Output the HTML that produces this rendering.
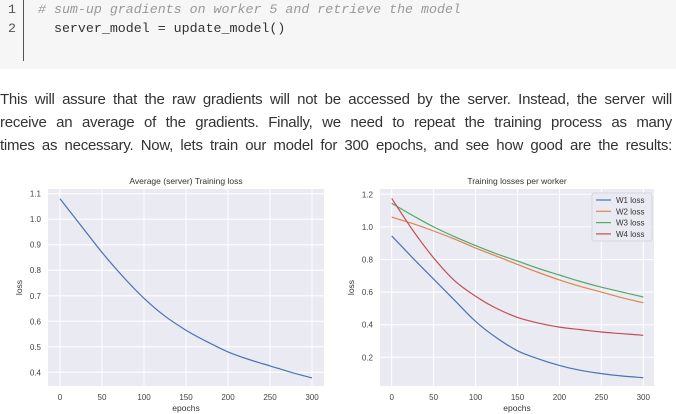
<!DOCTYPE html>
<html><head><meta charset="utf-8"><style>
body{margin:0;width:676px;height:414px;background:#fff;overflow:hidden;position:relative;font-family:"Liberation Sans",sans-serif}
#code{position:absolute;left:0;top:0;width:676px;height:69px;background:#f6f6f6}
.ln{position:absolute;left:8px;font:13.3px "Liberation Mono",monospace;color:#555}
.cl{position:absolute;left:38px;font:13.3px "Liberation Mono",monospace;color:#333;white-space:pre}
#bar{position:absolute;left:23px;top:0;width:1px;height:61px;background:#555}
#para{position:absolute;left:0;top:88px;width:672px;font-size:15px;letter-spacing:-0.25px;line-height:23px;color:#333}
.pl{white-space:nowrap;text-align:justify;text-align-last:justify;height:23px;overflow:hidden}
</style></head><body>
<div id="code">
<div id="bar"></div>
<div class="ln" style="top:2px">1</div>
<div class="ln" style="top:21px">2</div>
<div class="cl" style="top:2px;color:#999;font-style:italic"># sum-up gradients on worker 5 and retrieve the model</div>
<div class="cl" style="top:21px">  server_model = update_model()</div>
</div>
<div id="para">
<div class="pl" style="white-space:normal">This will assure that the raw gradients will not be accessed by the server. Instead, the server will</div>
<div class="pl" style="white-space:normal">receive an average of the gradients. Finally, we need to repeat the training process as many</div>
<div class="pl" style="white-space:normal">times as necessary. Now, lets train our model for 300 epochs, and see how good are the results:</div>
</div>
<svg id="charts" width="676" height="414" style="position:absolute;left:0;top:0"></svg>
<script>
const epochs=[0,25,50,75,100,125,150,175,200,225,250,275,300];
const avgLoss=[1.08,0.975,0.87,0.775,0.69,0.62,0.565,0.52,0.48,0.45,0.425,0.40,0.378];
const w1Loss=[0.945,0.81,0.68,0.55,0.42,0.32,0.24,0.19,0.15,0.12,0.10,0.085,0.075];
const w2Loss=[1.06,1.02,0.975,0.925,0.87,0.82,0.77,0.72,0.675,0.635,0.6,0.565,0.535];
const w3Loss=[1.145,1.07,1.0,0.94,0.885,0.835,0.79,0.745,0.705,0.665,0.63,0.6,0.57];
const w4Loss=[1.175,0.98,0.81,0.67,0.575,0.5,0.445,0.41,0.385,0.37,0.355,0.345,0.335];
const xTicks=[0,50,100,150,200,250,300];
const yTicksL=[0.4,0.5,0.6,0.7,0.8,0.9,1.0,1.1];
const yTicksR=[0.2,0.4,0.6,0.8,1.0,1.2];
const seriesNames=["W1 loss","W2 loss","W3 loss","W4 loss"];
const colors=["#4c72b0","#dd8452","#55a868","#c44e52"];
const svg=document.getElementById('charts');
const NS="http://www.w3.org/2000/svg";
function mk(t,a,p){const e=document.createElementNS(NS,t);for(const k in a)e.setAttribute(k,a[k]);(p||svg).appendChild(e);return e;}
function smooth(pts){
  let d='M'+pts[0][0].toFixed(1)+','+pts[0][1].toFixed(1);
  for(let i=0;i<pts.length-1;i++){
    const p0=pts[Math.max(0,i-1)],p1=pts[i],p2=pts[i+1],p3=pts[Math.min(pts.length-1,i+2)];
    const c1=[p1[0]+(p2[0]-p0[0])/6,p1[1]+(p2[1]-p0[1])/6];
    const c2=[p2[0]-(p3[0]-p1[0])/6,p2[1]-(p3[1]-p1[1])/6];
    d+=' C'+c1.map(v=>v.toFixed(1))+' '+c2.map(v=>v.toFixed(1))+' '+p2.map(v=>v.toFixed(1));
  }
  return d;
}
function chart(cfg){
  const g=mk('g',{});
  
  
  const sx=v=>cfg.x0+(v-0)*(cfg.x1-cfg.x0)/300;
  const sy=v=>cfg.ya+(v-cfg.va)*(cfg.yb-cfg.ya)/(cfg.vb-cfg.va);
  const bg=mk('rect',{x:cfg.L,y:cfg.T,width:cfg.R-cfg.L,height:cfg.B-cfg.T,fill:'#eaeaf2'},g);
  
  
  xTicks.forEach(t=>{
    const x=sx(t);
    mk('line',{x1:x,x2:x,y1:cfg.T,y2:cfg.B,stroke:'#fff','stroke-width':1},g);
    const tx=mk('text',{x:x,y:cfg.B+14,'font-size':8,fill:'#444','text-anchor':'middle'},g);
    tx.textContent=t;
    
    
  });
  cfg.yt.forEach(t=>{
    const y=sy(t);
    mk('line',{x1:cfg.L,x2:cfg.R,y1:y,y2:y,stroke:'#fff','stroke-width':1},g);
    const tx=mk('text',{x:cfg.L-7,y:y+3,'font-size':8,fill:'#444','text-anchor':'end'},g);
    tx.textContent=t.toFixed(1);
    
    
  });
  const ti=mk('text',{x:(cfg.L+cfg.R)/2,y:cfg.T-5,'font-size':8.5,fill:'#333','text-anchor':'middle'},g);
  ti.textContent=cfg.title;
  
  
  const xl=mk('text',{x:(cfg.L+cfg.R)/2,y:cfg.B+25,'font-size':8.5,fill:'#333','text-anchor':'middle'},g);
  xl.textContent='epochs';
  
  
  const yx=cfg.L-26,yy=(cfg.T+cfg.B)/2;
  const yl=mk('text',{x:yx,y:yy,'font-size':8.5,fill:'#333','text-anchor':'middle',transform:`rotate(-90 ${yx} ${yy})`},g);
  yl.textContent='loss';
  
  
  cfg.series.forEach((s,i)=>{
    const pts=epochs.map((e,j)=>[sx(e),sy(s[j])]);
    const p=mk('path',{d:smooth(pts),fill:'none',stroke:cfg.colors[i],'stroke-width':1.2,'stroke-linejoin':'round'},g);
    
    
  });
  return g;
}
chart({name:'average-loss-chart',L:48,R:324,T:189,B:386,x0:60,x1:312,ya:372.3,va:0.4,yb:193.7,vb:1.1,yt:yTicksL,title:'Average (server) Training loss',series:[avgLoss],colors:[colors[0]],snames:['avg-loss-line']});
const g2=chart({name:'worker-loss-chart',L:380,R:654,T:189,B:386,x0:391.7,x1:643.3,ya:357.3,va:0.2,yb:194.3,vb:1.2,yt:yTicksR,title:'Training losses per worker',series:[w1Loss,w2Loss,w3Loss,w4Loss],colors:colors,snames:['w1-loss-line','w2-loss-line','w3-loss-line','w4-loss-line']});
const lg=mk('g',{},g2);


mk('rect',{x:592,y:193,width:60,height:48,fill:'#eaeaf2',stroke:'#d0d0d8','stroke-width':0.8,rx:2},lg);
seriesNames.forEach((n,i)=>{
  const y=200+i*11.3;
  mk('line',{x1:596,x2:611,y1:y,y2:y,stroke:colors[i],'stroke-width':1.2},lg);
  const t=mk('text',{x:616,y:y+3,'font-size':8,fill:'#333'},lg);
  t.textContent=n;
  
  
});
</script>
</body></html>
